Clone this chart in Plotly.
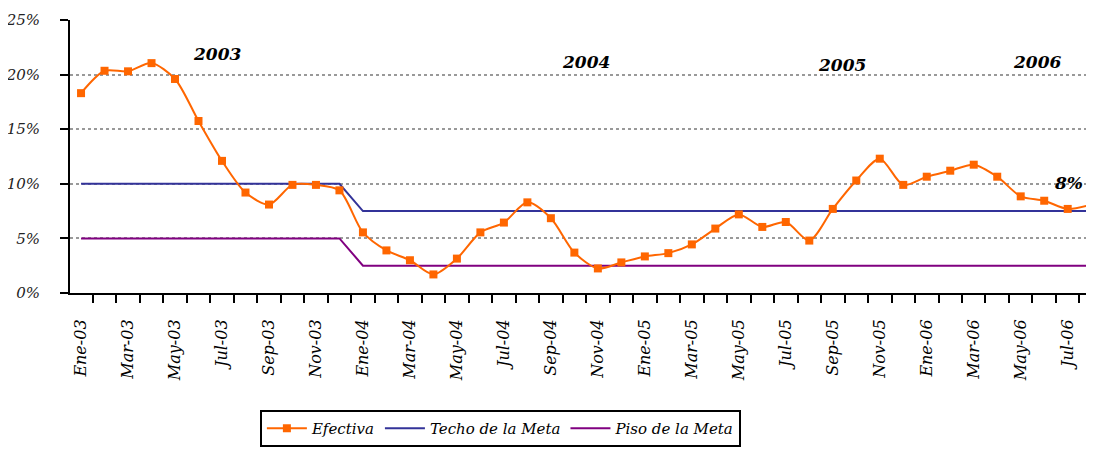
import plotly.graph_objects as go

months = []
mnames = ["Ene", "Feb", "Mar", "Abr", "May", "Jun", "Jul", "Ago", "Sep", "Oct", "Nov", "Dic"]
for yr in ["03", "04", "05", "06"]:
    for m in mnames:
        months.append(f"{m}-{yr}")
months = months[:44]

efectiva = [18.3, 20.35, 20.3, 21.05, 19.6, 15.75, 12.1, 9.2, 8.1, 9.9, 9.9, 9.4,
            5.55, 3.9, 3.0, 1.7, 3.15, 5.55, 6.45, 8.3, 6.85, 3.7, 2.25, 2.8,
            3.35, 3.65, 4.45, 5.9, 7.2, 6.05, 6.5, 4.8, 7.7, 10.3, 12.3, 9.9,
            10.65, 11.2, 11.75, 10.65, 8.85, 8.45, 7.7, 8.1]
techo = [10.0] * 12 + [7.5] * 32
piso = [5.0] * 12 + [2.5] * 32

y_ticks = [0, 5, 10, 15, 20, 25]
y_ticktext = [f"{v}%" for v in y_ticks]
year_labels = ["2003", "2004", "2005", "2006"]
year_pos_x = [5.8, 21.5, 32.4, 40.7]
year_pos_y = [21.9, 21.2, 20.9, 21.2]
last_label = "8%"

x = list(range(len(months)))
serif = "DejaVu Serif"

fig = go.Figure()
fig.add_trace(go.Scatter(x=x, y=techo, mode="lines", name="Techo de la Meta",
                         line=dict(color="#333399", width=2), legendrank=2))
fig.add_trace(go.Scatter(x=x, y=piso, mode="lines", name="Piso de la Meta",
                         line=dict(color="#800080", width=2), legendrank=3))
fig.add_trace(go.Scatter(x=x, y=efectiva, mode="lines+markers", name="Efectiva",
                         line=dict(color="#FF6600", width=2, shape="spline", smoothing=0.8),
                         marker=dict(symbol="square", size=8, color="#FF6600"),
                         legendrank=1, cliponaxis=False))

for lab, px, py in zip(year_labels, year_pos_x, year_pos_y):
    fig.add_annotation(x=px, y=py, text=f"<b><i>{lab}</i></b>", showarrow=False,
                       font=dict(family=serif, size=17, color="black"))
fig.add_annotation(x=42.05, y=10.1, text=f"<b><i>{last_label}</i></b>", showarrow=False,
                   font=dict(family=serif, size=17, color="black"))

fig.update_layout(
    width=1094, height=450,
    margin=dict(l=62, r=0, t=12, b=165, autoexpand=False),
    paper_bgcolor="white", plot_bgcolor="white",
    showlegend=True,
    legend=dict(orientation="h", x=0.184, y=-0.4286, xanchor="left", yanchor="top",
                bordercolor="black", borderwidth=2, bgcolor="white",
                font=dict(family=serif, size=15, style="italic", color="black"),
                traceorder="normal", itemwidth=40),
    xaxis=dict(range=[-0.47, 43.46], tickvals=x[::2], ticktext=months[::2],
               tickangle=-90, ticks="", ticklabelstandoff=18, automargin=False,
               tickfont=dict(family=serif, size=16, style="italic", color="black"),
               showline=True, linecolor="black", linewidth=2, showgrid=False,
               zeroline=False,
               minor=dict(tickvals=[i - 0.5 for i in range(len(months) + 1)],
                          ticks="outside", ticklen=8, tickwidth=2, tickcolor="black",
                          showgrid=False)),
    yaxis=dict(range=[0, 25], tickvals=y_ticks, ticktext=y_ticktext,
               ticks="outside", ticklen=8, tickwidth=2, tickcolor="black",
               ticklabelstandoff=17, automargin=False,
               tickfont=dict(family=serif, size=15, style="italic", color="#222"),
               showline=True, linecolor="black", linewidth=2,
               showgrid=True, gridcolor="#999999", gridwidth=2, griddash="dot",
               zeroline=False),
)

fig.write_html("out.html")
